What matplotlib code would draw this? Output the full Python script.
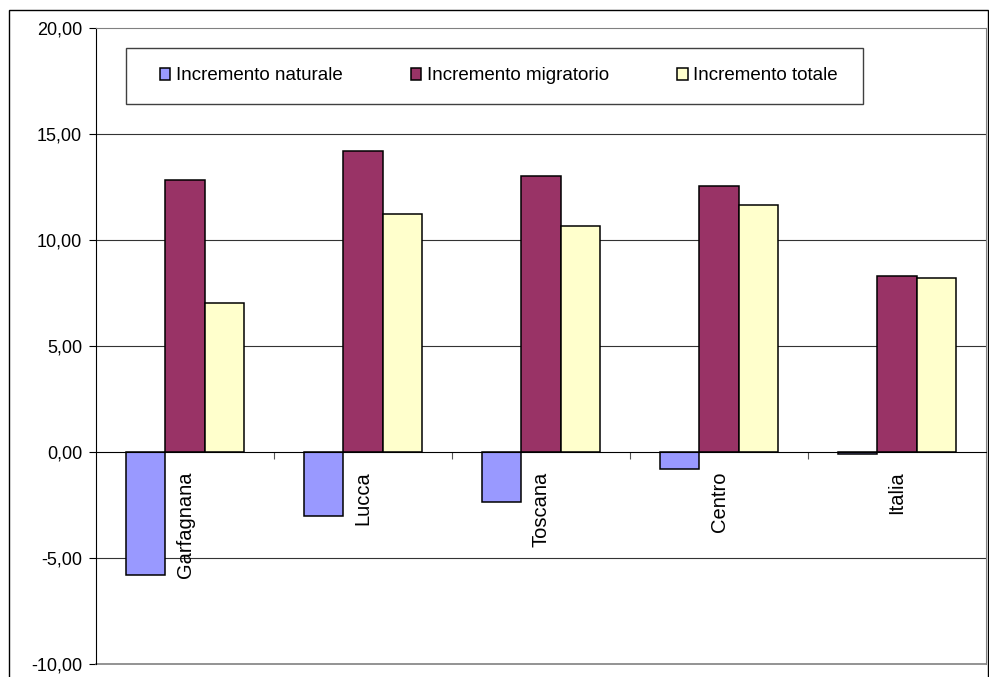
import matplotlib
matplotlib.use("Agg")
import matplotlib.pyplot as plt
import matplotlib.patches as mpatches
import numpy as np

plt.rcParams['font.family'] = ['Liberation Sans', 'DejaVu Sans']

categorie = ['Garfagnana', 'Lucca', 'Toscana', 'Centro', 'Italia']
naturale = [-5.82, -3.01, -2.35, -0.82, -0.08]
migratorio = [12.85, 14.22, 13.02, 12.53, 8.31]
totale = [7.02, 11.23, 10.66, 11.64, 8.23]
serie = ['Incremento naturale', 'Incremento migratorio', 'Incremento totale']
colori = ['#9999FF', '#993366', '#FFFFCC']
yticks = [-10, -5, 0, 5, 10, 15, 20]
ylabels = ['-10,00', '-5,00', '0,00', '5,00', '10,00', '15,00', '20,00']

W, H = 989, 677
fig = plt.figure(figsize=(W / 100, H / 100), dpi=100)
ax = fig.add_axes([96 / W, 1 - 664 / H, (986 - 96) / W, (664 - 28) / H])

# outer chart border
fig.patches.append(mpatches.Rectangle((9 / W, -0.1), (988 - 9) / W, (H - 10) / H + 0.1,
                                      transform=fig.transFigure, fill=False,
                                      edgecolor='black', linewidth=1.0))

x = np.arange(len(categorie))
w = 0.222
for i, (vals, c, lab) in enumerate(zip([naturale, migratorio, totale], colori, serie)):
    ax.bar(x + (i - 1) * w, vals, w, color=c, edgecolor='black', linewidth=1.1,
           label=lab, zorder=3)

ax.set_xlim(-0.5, len(categorie) - 0.5)
ax.set_ylim(-10, 20)

for v in [-5, 5, 10, 15]:
    ax.axhline(v, color='#333333', linewidth=0.8, zorder=1)

# plot area border
ax.spines['top'].set_color('#808080')
ax.spines['right'].set_color('#808080')
ax.spines['bottom'].set_position(('data', 0))
ax.spines['bottom'].set_color('black')
ax.spines['bottom'].set_zorder(4)
ax.axhline(-10, color='#808080', linewidth=1.2, clip_on=False)
ax.spines['left'].set_color('black')

ax.set_yticks(yticks)
ax.set_yticklabels(ylabels, fontsize=13)
ax.tick_params(axis='y', direction='out', length=5, width=0.8, pad=5)
ax.set_xticks(np.arange(0.5, len(categorie) - 1, 1.0))
ax.set_xticklabels([])
ax.tick_params(axis='x', direction='out', length=5, width=0.8, color='#555555')

for xi, nome in zip(x, categorie):
    ax.annotate(nome, (xi, 0), xytext=(0, -14), textcoords='offset points',
                rotation=90, ha='center', va='top', fontsize=14.5, zorder=5)

# legend box
bx0, bx1 = (126 - 96) / (986 - 96), (863 - 96) / (986 - 96)
by0, by1 = (664 - 104) / 636, (664 - 48) / 636
ax.add_patch(mpatches.Rectangle((bx0, by0), bx1 - bx0, by1 - by0, transform=ax.transAxes,
                                facecolor='white', edgecolor='#404040', linewidth=1.0,
                                zorder=6, clip_on=False))
leg = ax.legend(loc='center', bbox_to_anchor=((bx0 + bx1) / 2 + 0.005, (by0 + by1) / 2),
                ncol=3, frameon=False, fontsize=13.5, handlelength=0.55, handleheight=0.55,
                handletextpad=0.3, columnspacing=3.65, borderaxespad=0)
leg.set_zorder(7)

fig.savefig('out.png', dpi=100)
